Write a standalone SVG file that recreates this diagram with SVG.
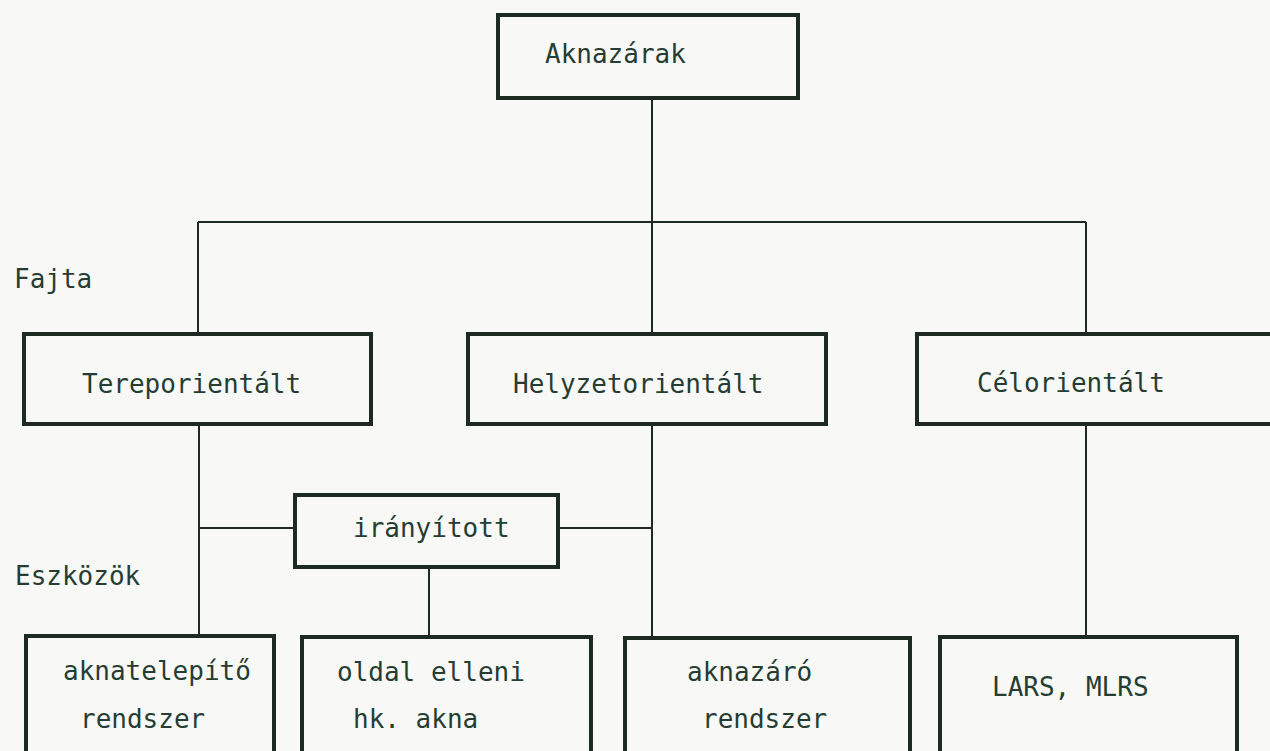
<svg xmlns="http://www.w3.org/2000/svg" width="1270" height="751" viewBox="0 0 1270 751">
<style>
.bg{fill:#f8f9f7}
.box{fill:none;stroke:#1c2a22;stroke-width:4}
.ln{fill:none;stroke:#1c2a22;stroke-width:2}
text{font-family:"DejaVu Sans Mono","Liberation Mono",monospace;font-size:26px;letter-spacing:0px;fill:#263d33}
</style>
<rect class="bg" x="0" y="0" width="1270" height="751"/>
<g id="connectors">
<path class="ln" d="M652,100 V222"/>
<path class="ln" d="M198,222 H1086"/>
<path class="ln" d="M198,222 V334"/>
<path class="ln" d="M652,222 V334"/>
<path class="ln" d="M1086,222 V334"/>
<path class="ln" d="M199,425 V636"/>
<path class="ln" d="M199,528 H295"/>
<path class="ln" d="M558,528 H652"/>
<path class="ln" d="M652,425 V638"/>
<path class="ln" d="M429,569 V637"/>
<path class="ln" d="M1086,426 V637"/>
</g>
<g id="labels">
<text x="14" y="288">Fajta</text>
<text x="15" y="585">Eszközök</text>
</g>
<g id="aknazarak">
<rect class="box" x="498" y="15" width="300" height="83"/>
<text x="545" y="63">Aknazárak</text>
</g>
<g id="tereporientalt">
<rect class="box" x="24" y="334" width="347" height="90"/>
<text x="82" y="393">Tereporientált</text>
</g>
<g id="helyzetorientalt">
<rect class="box" x="468" y="334" width="358" height="90"/>
<text x="513" y="393">Helyzetorientált</text>
</g>
<g id="celorientalt">
<rect class="box" x="917" y="334" width="370" height="90"/>
<text x="977" y="392">Célorientált</text>
</g>
<g id="iranyitott">
<rect class="box" x="295" y="495" width="263" height="72"/>
<text x="353" y="537">irányított</text>
</g>
<g id="aknatelepito">
<rect class="box" x="26" y="636" width="248" height="140"/>
<text x="63" y="680">aknatelepítő</text>
<text x="80" y="728">rendszer</text>
</g>
<g id="oldal-elleni">
<rect class="box" x="302" y="637" width="289" height="140"/>
<text x="337" y="681">oldal elleni</text>
<text x="353" y="728">hk. akna</text>
</g>
<g id="aknazaro">
<rect class="box" x="625" y="638" width="285" height="140"/>
<text x="687" y="681">aknazáró</text>
<text x="702" y="728">rendszer</text>
</g>
<g id="lars-mlrs">
<rect class="box" x="940" y="637" width="297" height="140"/>
<text x="992" y="696">LARS, MLRS</text>
</g>
</svg>
